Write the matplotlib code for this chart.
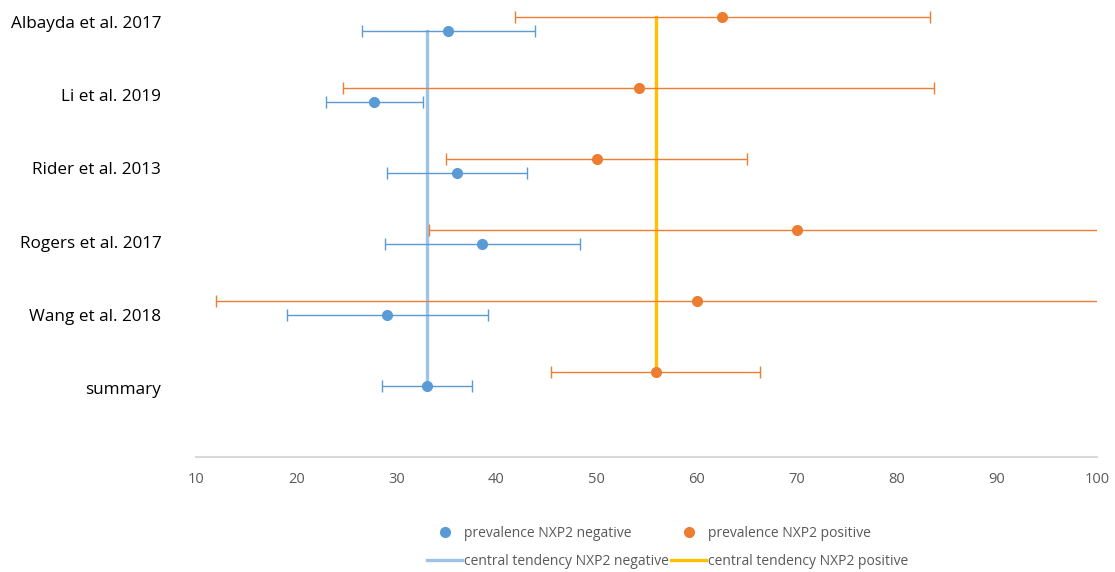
import matplotlib
matplotlib.use('Agg')
import matplotlib.pyplot as plt  # NOQA
from matplotlib.lines import Line2D  # NOQA

plt.rcParams['font.family'] = ['Open Sans', 'DejaVu Sans']

studies = ['Albayda et al. 2017', 'Li et al. 2019', 'Rider et al. 2013',
           'Rogers et al. 2017', 'Wang et al. 2018', 'summary']

# prevalence (%) and confidence interval bounds
neg_val = [35.2, 27.8, 36.1, 38.6, 29.1, 33.1]
neg_low = [26.6, 23.0, 29.1, 28.9, 19.1, 28.6]
neg_high = [43.9, 32.7, 43.1, 48.4, 39.2, 37.6]

pos_val = [62.5, 54.2, 50.1, 70.0, 60.0, 55.9]
pos_low = [41.9, 24.7, 35.0, 33.3, 12.0, 45.5]
pos_high = [83.3, 83.7, 65.0, 101.0, 101.0, 66.3]

central_neg = 33.1
central_pos = 55.9

BLUE = '#5B9BD5'
ORANGE = '#ED7D31'
LIGHT_BLUE = '#9DC3E6'
YELLOW = '#FFC000'

rows = list(range(len(studies)))
y_neg = [r + 0.1 for r in rows]
y_pos = [r - 0.1 for r in rows]
# the category labels sit on a slightly wider spacing than the markers
label_pos = [-0.03 + 1.031 * r for r in rows]

fig = plt.figure(figsize=(11.15, 5.72), dpi=100)
ax = fig.add_axes([0.1758, 0.201, 0.8081, 0.799])

ax.plot([central_neg, central_neg], [y_neg[0], y_neg[-1]],
        color=LIGHT_BLUE, lw=2.4, zorder=2)
ax.plot([central_pos, central_pos], [y_pos[0], y_pos[-1]],
        color=YELLOW, lw=2.4, zorder=2)

ax.errorbar(neg_val, y_neg,
            xerr=[[v - lo for v, lo in zip(neg_val, neg_low)],
                  [hi - v for v, hi in zip(neg_val, neg_high)]],
            fmt='o', color=BLUE, ecolor=BLUE, elinewidth=1.0, capsize=4,
            capthick=1.0, markersize=7, zorder=3)
ax.errorbar(pos_val, y_pos,
            xerr=[[v - lo for v, lo in zip(pos_val, pos_low)],
                  [hi - v for v, hi in zip(pos_val, pos_high)]],
            fmt='o', color=ORANGE, ecolor=ORANGE, elinewidth=1.0, capsize=4,
            capthick=1.0, markersize=7, zorder=3)

ax.set_xlim(10, 100)
ax.set_ylim(6.1, -0.34)
ax.set_xticks(range(10, 101, 10))
ax.set_yticks(label_pos)
ax.set_yticklabels(studies, fontsize=12.3, color='#000000')
ax.tick_params(axis='x', length=0, pad=11, labelsize=10.5, labelcolor='#595959')
ax.tick_params(axis='y', length=0, pad=25)

for side in ['top', 'right', 'left']:
    ax.spines[side].set_visible(False)
ax.spines['bottom'].set_color('#D9D9D9')
ax.spines['bottom'].set_linewidth(1.5)

handles = [
    Line2D([], [], ls='none', marker='o', color=BLUE, markersize=7),
    Line2D([], [], color=LIGHT_BLUE, lw=2.4),
    Line2D([], [], ls='none', marker='o', color=ORANGE, markersize=7),
    Line2D([], [], color=YELLOW, lw=2.4),
]
labels = ['prevalence NXP2 negative', 'central tendency NXP2 negative',
          'prevalence NXP2 positive', 'central tendency NXP2 positive']
fig.legend(handles, labels, ncol=2, loc='center', bbox_to_anchor=(0.599, 0.043),
           frameon=False, fontsize=10, labelcolor='#595959', handlelength=2.5,
           handletextpad=0.15, columnspacing=0.15, labelspacing=0.95)

fig.savefig('out.png', dpi=100)
plt.close(fig)
